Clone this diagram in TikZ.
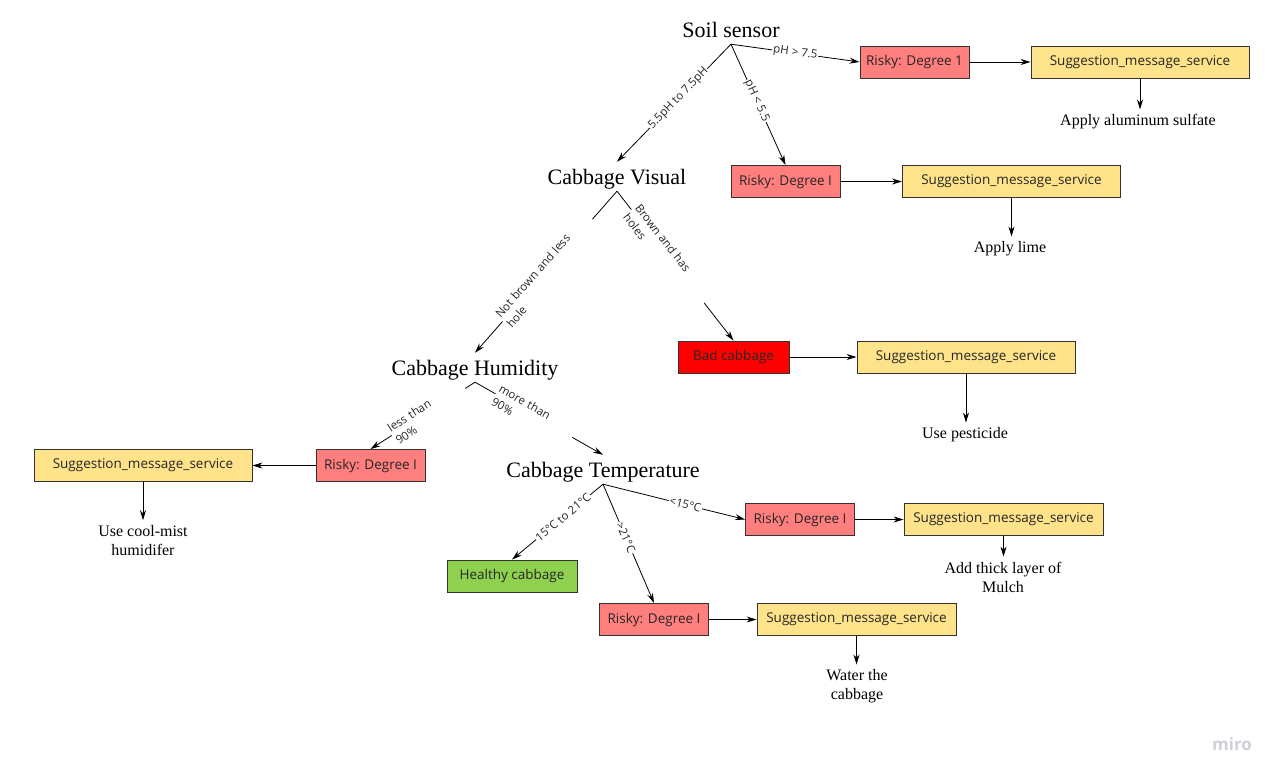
\documentclass[tikz,border=0pt]{standalone}
\usepackage{fontspec}
\setmainfont{Liberation Serif}
\newfontfamily\boxfont{Open Sans}
\usepackage{tikz}
\usetikzlibrary{arrows.meta}

\definecolor{riskred}{HTML}{FF7F7F}
\definecolor{msgyellow}{HTML}{FFE38A}
\definecolor{okgreen}{HTML}{8FD14F}
\definecolor{badred}{HTML}{FF0000}
\definecolor{framegray}{HTML}{333333}
\definecolor{logogray}{HTML}{CFCFDA}

\begin{document}
\begin{tikzpicture}[x=1pt, y=-1pt, >={Stealth[length=10pt, width=6pt]},
  sensor/.style={font=\fontsize{22}{26}\selectfont, text height=22pt, text depth=7pt, inner ysep=0pt, inner xsep=2pt, anchor=base},
  statebox/.style={draw=framegray, line width=0.9pt, minimum height=32pt, inner sep=0pt, text=black!85, font=\boxfont\fontsize{13.5}{16}\selectfont},
  risky/.style={statebox, fill=riskred, minimum width=109pt},
  msg/.style={statebox, fill=msgyellow, minimum width=218pt},
  advice/.style={font=\fontsize{16}{19}\selectfont, align=center, inner xsep=0pt, inner ysep=5pt},
  cond/.style={sloped, fill=white, inner sep=1pt, text=black!85, font=\boxfont\fontsize{11.5}{15}\selectfont},
  link/.style={->, line width=0.8pt}]
  \useasboundingbox (0,0) rectangle (1282,779);

  % sensors
  \node[sensor] (soil) at (731,37) {Soil sensor};
  \node[sensor] (vis) at (617,184) {Cabbage Visual};
  \node[sensor] (hum) at (475,375) {Cabbage Humidity};
  \node[sensor] (temp) at (603,477) {Cabbage Temperature};

  % states
  \node[risky] (r1) at (914.5,62) {Risky: Degree 1};
  \node[risky] (r2) at (785.5,181.5) {Risky: Degree I};
  \node[statebox, fill=badred, minimum width=111pt] (bad) at (733.5,357) {Bad cabbage};
  \node[risky] (r3) at (370.5,465.5) {Risky: Degree I};
  \node[risky] (r4) at (800,519.5) {Risky: Degree I};
  \node[statebox, fill=okgreen, minimum width=130pt] (ok) at (512,576) {Healthy cabbage};
  \node[risky] (r5) at (654,619.5) {Risky: Degree I};

  % message services
  \node[msg] (s1) at (1140,62) {Suggestion\_message\_service};
  \node[msg] (s2) at (1011.5,181.5) {Suggestion\_message\_service};
  \node[msg] (s3) at (966,357) {Suggestion\_message\_service};
  \node[msg] (s4) at (143,465.5) {Suggestion\_message\_service};
  \node[msg, minimum width=199pt] (s5) at (1003.5,519.5) {Suggestion\_message\_service};
  \node[msg, minimum width=199pt] (s6) at (856.5,619.5) {Suggestion\_message\_service};

  % advice texts
  \node[advice] (t1) at (1138,122) {Apply aluminum sulfate};
  \node[advice] (t2) at (1010,249) {Apply lime};
  \node[advice] (t3) at (965,435) {Use pesticide};
  \node[advice] (t4) at (143,540.5) {Use cool-mist\\humidifer};
  \node[advice] (t5) at (1003,577) {Add thick layer of\\Mulch};
  \node[advice] (t6) at (857,686.5) {Water the\\cabbage};

  % soil branches
  \draw[link] (soil.south) -- node[cond, pos=0.5] {pH > 7.5} (r1.west);
  \draw[link] (soil.south) -- node[cond, pos=0.47] {pH < 5.5} (r2.north);
  \draw[link] (soil.south) -- node[cond, pos=0.46] {5.5pH to 7.5pH} (vis.north);
  \draw[link] (r1) -- (s1);
  \draw[link] (r2) -- (s2);

  % visual branches
  \draw[link] (vis.south) -- node[cond, pos=0.49, text width=134pt, align=left] {Not brown and less\\hole} (hum.north);
  \draw[link] (vis.south) -- node[cond, pos=0.435, text width=116pt, align=left] {Brown and has\\holes} (bad.north);
  \draw[link] (bad) -- (s3);

  % humidity branches
  \draw[link] (hum.south) -- node[cond, pos=0.445, text width=85pt, align=left] {less than\\90\%} (r3.north);
  \draw[link] (hum.south) -- node[cond, pos=0.46, text width=86pt, align=left] {more than\\90\%} (temp.north);
  \draw[link] (r3) -- (s4);

  % temperature branches
  \draw[link] (temp.south) -- node[cond, pos=0.44] {15°C to 21°C} (ok.north);
  \draw[link] (temp.south) -- node[cond, pos=0.45] {>21°C} (r5.north);
  \draw[link] (temp.south) -- node[cond, pos=0.58] {<15°C} (r4.west);
  \draw[link] (r4) -- (s5);
  \draw[link] (r5) -- (s6);

  % advice arrows
  \draw[link] (s1.south) -- (s1.south |- t1.north);
  \draw[link] (s2.south) -- (s2.south |- t2.north);
  \draw[link] (s3.south) -- (s3.south |- t3.north);
  \draw[link] (s4.south) -- (s4.south |- t4.north);
  \draw[link] (s5.south) -- (s5.south |- t5.north);
  \draw[link] (s6.south) -- (s6.south |- t6.north);

  \node[text=logogray, font=\boxfont\bfseries\fontsize{17}{20}\selectfont] (logo) at (1232,744) {miro};
\end{tikzpicture}
\end{document}
